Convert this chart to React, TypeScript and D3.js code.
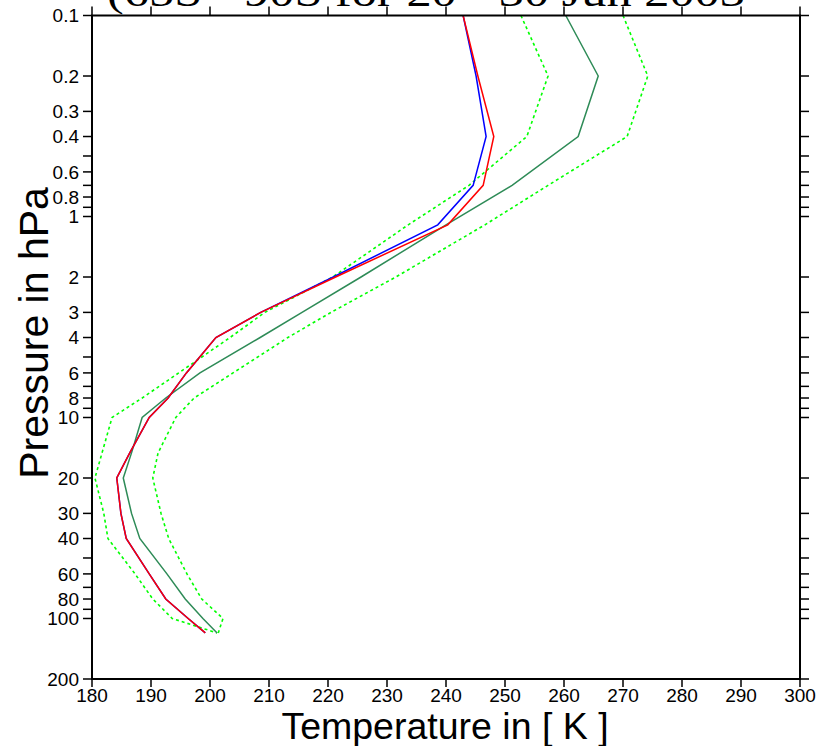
import React from "react";
import * as d3 from "d3";

const pressure = [0.1, 0.2, 0.4, 0.7, 1.1, 2, 3, 4, 6, 8, 10, 15, 20, 30, 40, 60, 80, 100, 118];
const tempRed = [242.9, 245.4, 248.1, 246.3, 240.3, 221.3, 208.6, 201.0, 196.0, 192.9, 189.7, 186.4, 184.2, 184.9, 185.8, 189.7, 192.5, 196.3, 199.2];
const tempBlue = [242.9, 245.1, 246.8, 244.6, 238.6, 220.9, 208.6, 201.0, 196.0, 192.9, 189.7, 186.4, 184.2, 184.9, 185.8, 189.7, 192.5, 196.3, 199.2];
const tempMean = [260.3, 265.8, 262.4, 251.2, 240.0, 225.6, 215.6, 208.5, 198.3, 192.5, 188.5, 186.7, 185.3, 186.7, 188.1, 192.7, 195.8, 198.8, 201.2];
const tempLower = [252.7, 257.3, 253.7, 243.9, 233.6, 220.8, 209.3, 203.4, 194.7, 188.5, 183.4, 181.7, 180.5, 182.0, 182.7, 187.3, 190.3, 193.6, 201.2];
const tempUpper = [270.0, 274.2, 270.7, 257.3, 246.6, 231.5, 220.5, 213.2, 203.9, 197.3, 194.2, 191.2, 190.3, 191.7, 193.0, 196.1, 198.6, 202.2, 201.4];

const xTicks = [180, 190, 200, 210, 220, 230, 240, 250, 260, 270, 280, 290, 300];
const yTicks = [0.1, 0.2, 0.3, 0.4, 0.5, 0.6, 0.7, 0.8, 0.9, 1, 2, 3, 4, 5, 6, 7, 8, 9, 10, 20, 30, 40, 50, 60, 70, 80, 90, 100, 200];
const yTickLabels = ["0.1", "0.2", "0.3", "0.4", "", "0.6", "", "0.8", "", "1", "2", "3", "4", "", "6", "", "8", "", "10", "20", "30", "40", "", "60", "", "80", "", "100", "200"];

const titleText = "(65S - 90S for 20 - 30 Jun 2003";
const xTitle = "Temperature in [ K ]";
const yTitle = "Pressure in hPa";

export default function App() {
  const W = 821, H = 746;
  const left = 92, right = 800, top = 15.5, bottom = 679;
  const x = d3.scaleLinear().domain([180, 300]).range([left, right]);
  const y = d3.scaleLog().domain([0.1, 200]).range([top, bottom]);
  const line = (temps: number[]) =>
    d3.line<number>().x((_, i) => x(temps[i])).y((p) => y(p))(pressure) || "";
  const sans = "'Liberation Sans', Arial, sans-serif";

  return (
    <svg width={W} height={H} style={{ position: "absolute", left: 0, top: 0, background: "#fff" }}>
      <rect x={0} y={0} width={W} height={H} fill="#fff" />
      <text x={107} y={6} fontFamily="'Liberation Serif', 'Times New Roman', serif" fontSize={40}
        textLength={638} lengthAdjust="spacingAndGlyphs" fill="#000">{titleText}</text>

      {/* data */}
      <path d={line(tempLower)} fill="none" stroke="#00ff00" strokeWidth={1.6} strokeDasharray="3,3" />
      <path d={line(tempUpper)} fill="none" stroke="#00ff00" strokeWidth={1.6} strokeDasharray="3,3" />
      <path d={line(tempMean)} fill="none" stroke="#2e8b57" strokeWidth={1.5} />
      <path d={line(tempBlue)} fill="none" stroke="#0000ff" strokeWidth={1.5} />
      <path d={line(tempRed)} fill="none" stroke="#ff0000" strokeWidth={1.5} />

      {/* frame */}
      <rect x={left} y={top} width={right - left} height={bottom - top} fill="none" stroke="#000" strokeWidth={2} />

      {/* x ticks */}
      {xTicks.map((t) => (
        <g key={"x" + t}>
          <line x1={x(t)} x2={x(t)} y1={bottom} y2={bottom + 8} stroke="#000" strokeWidth={1.5} />
          <line x1={x(t)} x2={x(t)} y1={top} y2={top - 9} stroke="#000" strokeWidth={1.5} />
          <text x={x(t)} y={702} textAnchor="middle" fontFamily={sans} fontSize={19} fill="#000">{t}</text>
        </g>
      ))}

      {/* y ticks */}
      {yTicks.map((p, i) => (
        <g key={"y" + p}>
          <line x1={left} x2={left - 9} y1={y(p)} y2={y(p)} stroke="#000" strokeWidth={1.5} />
          <line x1={right} x2={right + 9} y1={y(p)} y2={y(p)} stroke="#000" strokeWidth={1.5} />
          {yTickLabels[i] && (
            <text x={79} y={y(p)} dy="0.36em" textAnchor="end" fontFamily={sans} fontSize={19} fill="#000">{yTickLabels[i]}</text>
          )}
        </g>
      ))}

      <text x={445} y={739} textAnchor="middle" fontFamily={sans} fontSize={37.5} fill="#000">{xTitle}</text>
      <text transform={`translate(48, 333) rotate(-90)`} textAnchor="middle" fontFamily={sans} fontSize={41} fill="#000">{yTitle}</text>
    </svg>
  );
}
